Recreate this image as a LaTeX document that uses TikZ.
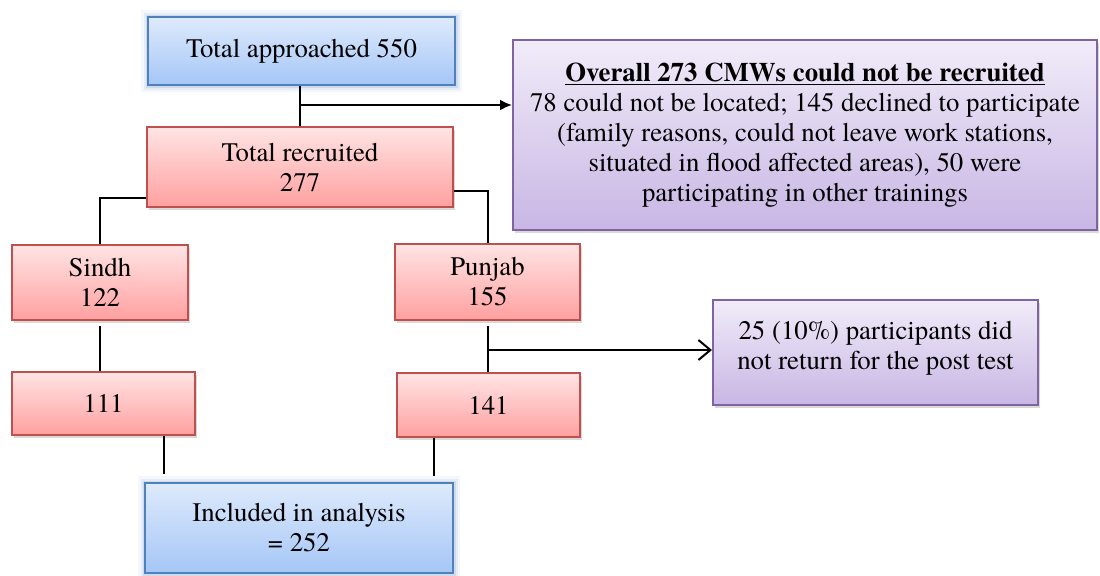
\documentclass[tikz,border=0pt]{standalone}
\usepackage{fontspec}
\setmainfont{texgyretermes-regular.otf}[
  BoldFont=texgyretermes-bold.otf,
  ItalicFont=texgyretermes-italic.otf,
  BoldItalicFont=texgyretermes-bolditalic.otf]
\usepackage{tikz}
\usetikzlibrary{arrows.meta,shadows}

\definecolor{bluebd}{RGB}{79,129,189}
\definecolor{bluetop}{RGB}{222,234,252}
\definecolor{bluebot}{RGB}{165,198,246}
\definecolor{redbd}{RGB}{192,80,77}
\definecolor{redtop}{RGB}{255,228,228}
\definecolor{redbot}{RGB}{255,160,160}
\definecolor{purbd}{RGB}{128,100,162}
\definecolor{purtop}{RGB}{241,236,249}
\definecolor{purbot}{RGB}{200,182,228}

\tikzset{
  box/.style={rectangle, line width=1pt, align=center, inner sep=0pt},
  bluebox/.style={box, draw=bluebd, top color=bluetop, bottom color=bluebot,
    preaction={draw=bluebd!50, line width=7pt, opacity=0.12},
    preaction={draw=bluebd!50, line width=4.5pt, opacity=0.2},
    preaction={draw=bluebd!60, line width=2.5pt, opacity=0.3}},
  redbox/.style={box, draw=redbd, top color=redtop, bottom color=redbot,
    drop shadow={shadow xshift=1pt, shadow yshift=-1.5pt, opacity=0.3}},
  purbox/.style={box, draw=purbd, top color=purtop, bottom color=purbot,
    drop shadow={shadow xshift=1pt, shadow yshift=-1.5pt, opacity=0.3}},
  link/.style={line width=1pt}
}

\begin{document}
\begin{tikzpicture}[x=0.5pt, y=-0.5pt, font=\fontsize{13.4}{15}\selectfont]
\useasboundingbox (0,0) rectangle (1100,575);
% boxes
\node [bluebox, minimum width=153.5pt, minimum height=34pt] (app) at (301.5,51) {Total approached 550};
\node [purbox, minimum width=292pt, minimum height=95pt] (notrec) at (805,135)
  {\textbf{\underline{Overall 273 CMWs could not be recruited}}\\
   78 could not be located; 145 declined to participate\\
   (family reasons, could not leave work stations,\\
   situated in flood affected areas), 50 were\\
   participating in other trainings};
\node [redbox, minimum width=153pt, minimum height=40pt] (rec) at (300,167) {Total recruited\\277};
\node [redbox, minimum width=88pt, minimum height=37.5pt] (sindh) at (100,282.5) {Sindh\\122};
\node [redbox, minimum width=92.5pt, minimum height=38pt] (punjab) at (487.5,282) {Punjab\\155};
\node [redbox, minimum width=91.5pt, minimum height=31.5pt] (s111) at (103.5,403.5) {111};
\node [redbox, minimum width=91.5pt, minimum height=32pt] (p141) at (488.5,405) {141};
\node [purbox, minimum width=162.5pt, minimum height=52.5pt] (lost) at (875.5,352.5)
  {25 (10\%) participants did\\not return for the post test\\[-7.5pt]};
\node [bluebox, minimum width=154pt, minimum height=45pt] (incl) at (299,528) {Included in analysis\\= 252};
% lines
\draw [link] (app.south -| rec.north) -- (rec.north);
\coordinate (b1) at (300,105);
\draw [link, -{Latex[length=6pt,width=5.5pt]}] (b1) -- (b1 -| notrec.west);
\draw [link] ([yshift=5pt]rec.south west) -| (sindh.north);
\draw [link] ([yshift=8.5pt]rec.south east) -| (punjab.north);
\draw [link] ([yshift=-2.5pt]sindh.south) -- (sindh.south |- s111.north);
\draw [link] ([yshift=-2.5pt]punjab.south) -- (punjab.south |- p141.north);
\coordinate (b2) at (487.5,350);
\draw [link, -{Straight Barb[length=6pt,width=10pt]}] (b2) -- (b2 -| lost.west);
\draw [link] ([xshift=10pt]incl.north west |- s111.south) -- ([xshift=10pt,yshift=4pt]incl.north west);
\draw [link] ([xshift=-10pt]incl.north east |- p141.south) -- ([xshift=-10pt,yshift=3pt]incl.north east);
\end{tikzpicture}
\end{document}
